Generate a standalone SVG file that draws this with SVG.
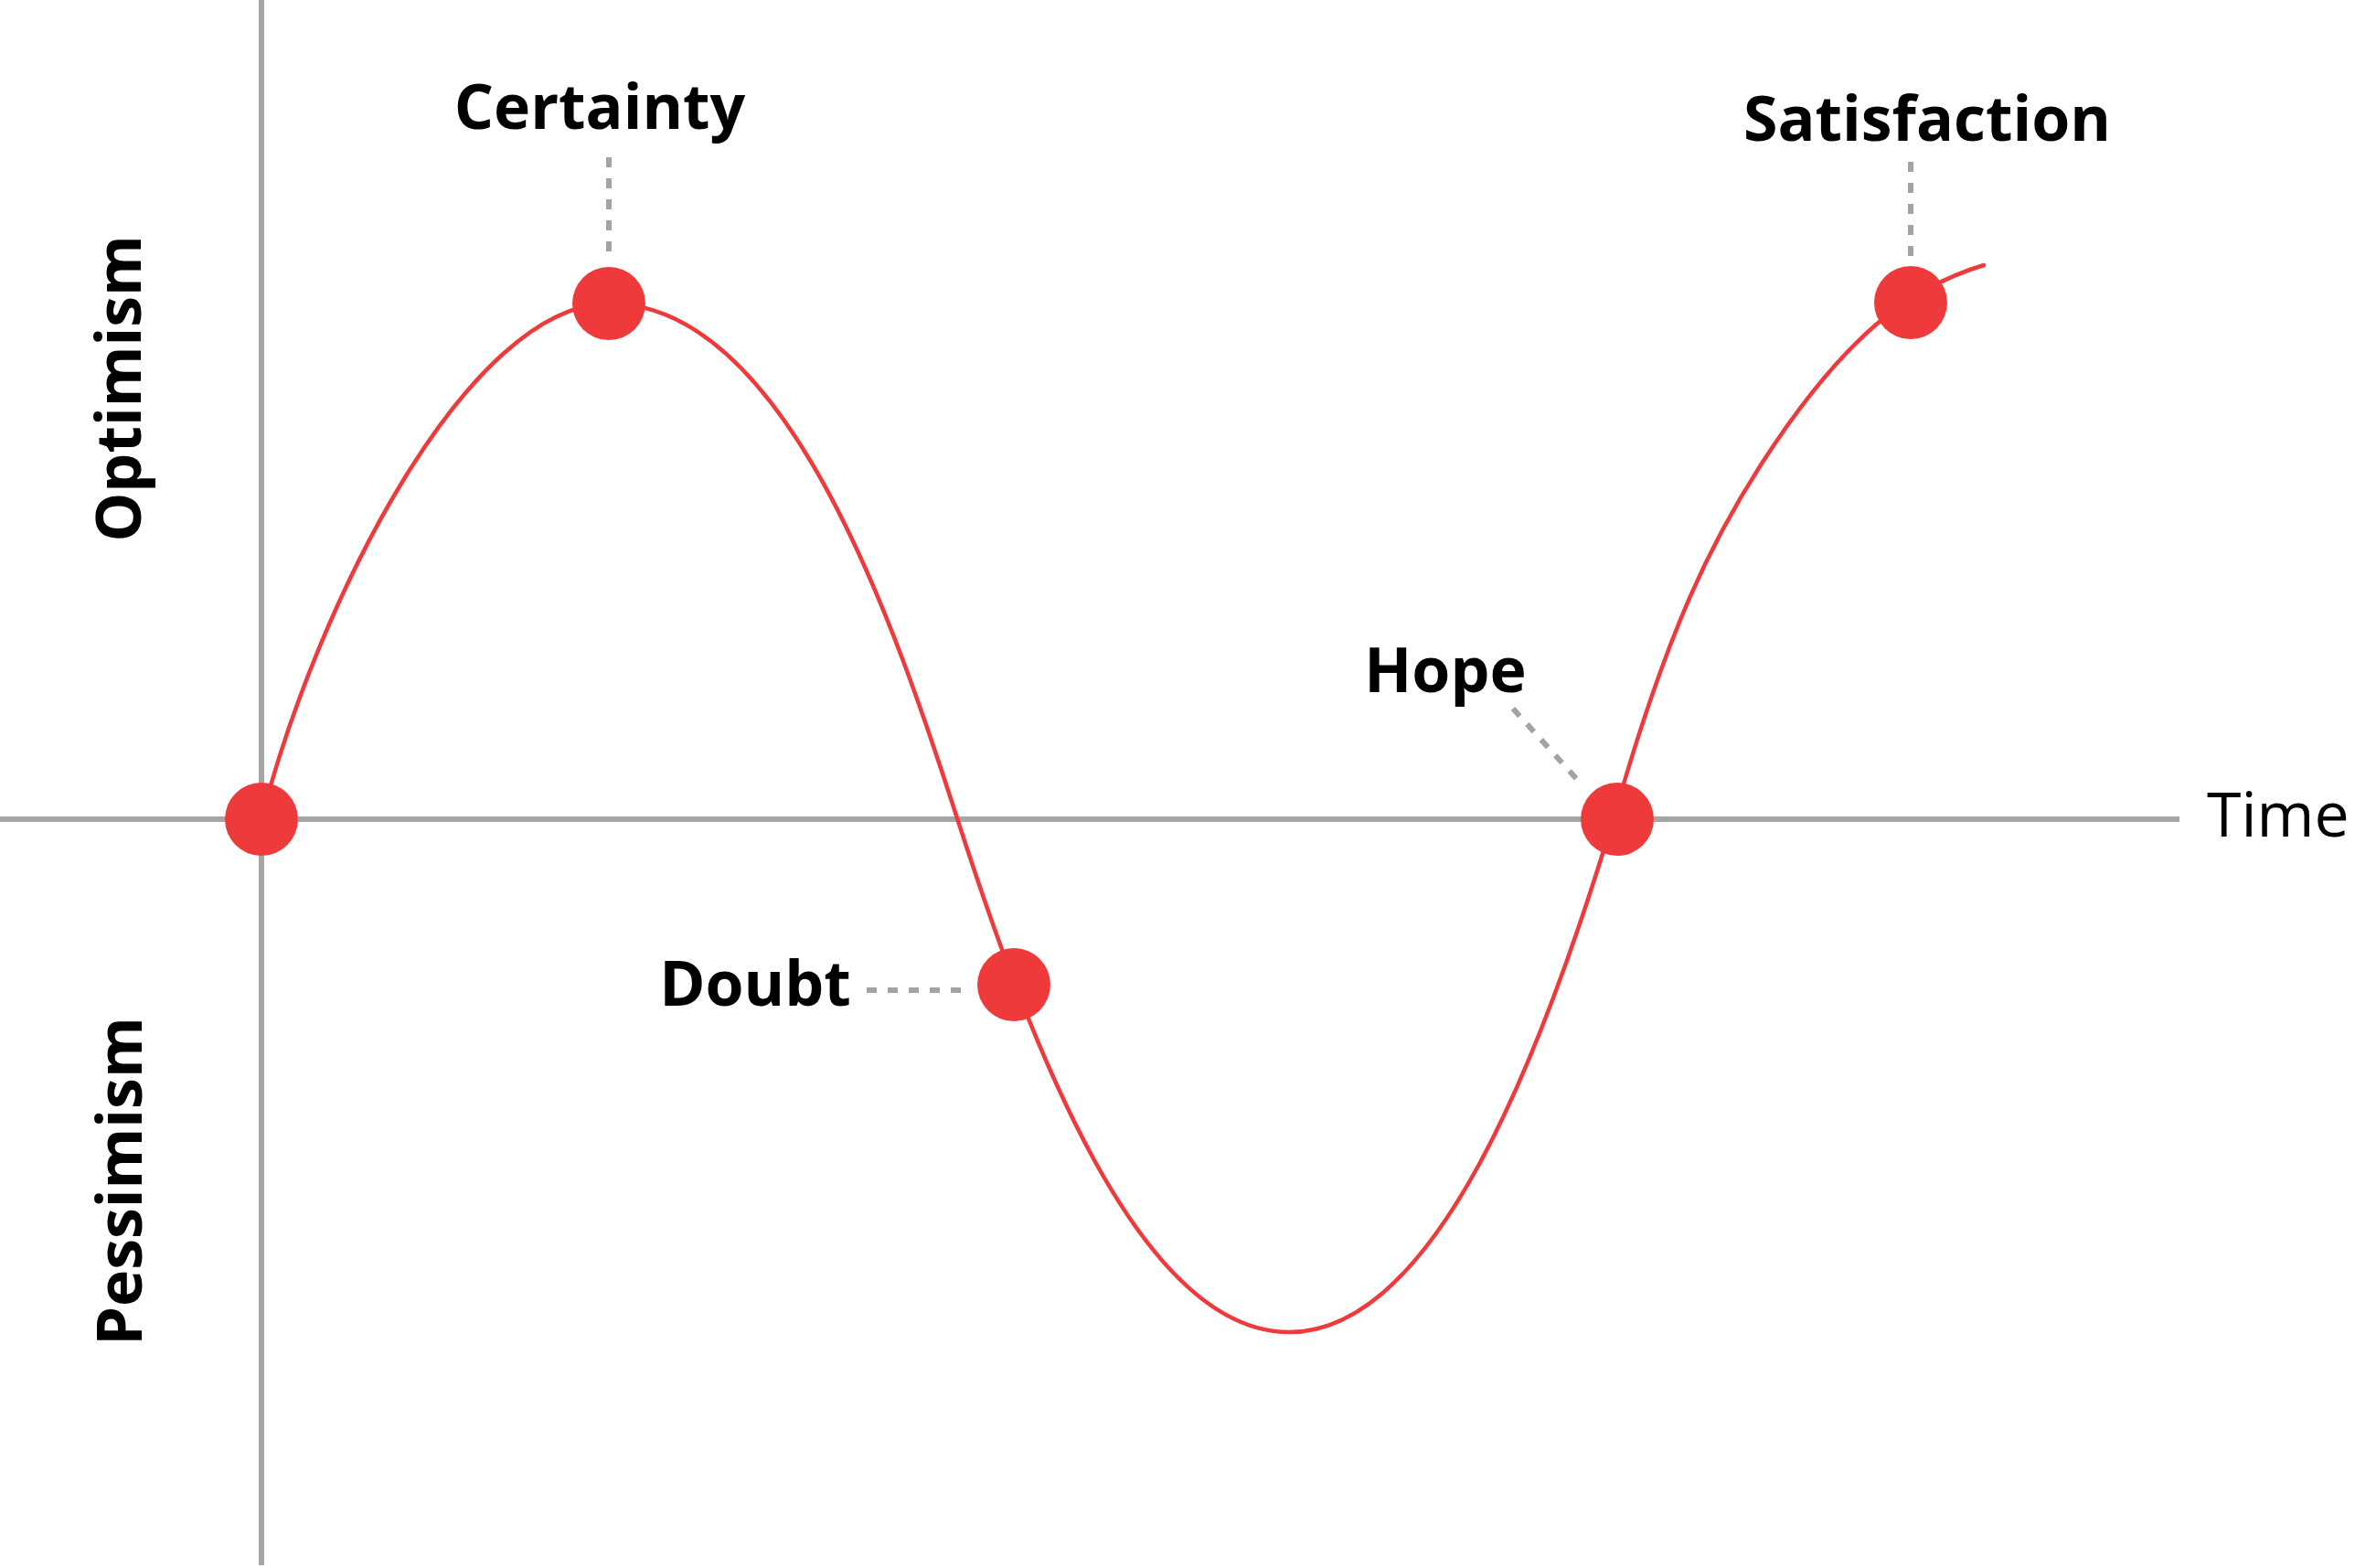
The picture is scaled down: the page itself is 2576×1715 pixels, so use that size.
<svg xmlns="http://www.w3.org/2000/svg" width="2576" height="1715" viewBox="0 0 2576 1715">
  <style>
    .axis { stroke: #a6a6a6; stroke-width: 6; fill: none; }
    .curve { stroke: #ee3a3b; stroke-width: 4.5; fill: none; stroke-linecap: round; }
    .leader { stroke: #a3a3a3; stroke-width: 6; fill: none; stroke-dasharray: 11 12; }
    .dot { fill: #ee3a3b; }
    .label { font-family: "Open Sans", "Noto Sans", sans-serif; font-weight: 700; font-size: 68px; fill: #000000; }
    .axislabel { font-family: "Open Sans", "Noto Sans", sans-serif; font-weight: 700; font-size: 68px; fill: #000000; }
    .time { font-family: "Open Sans", "Noto Sans", sans-serif; font-weight: 400; font-size: 68px; fill: #000000; }
  </style>
  <rect width="2576" height="1715" fill="#ffffff"/>

  <g id="axes">
    <line class="axis" x1="286" y1="0" x2="286" y2="1712"/>
    <line class="axis" x1="0" y1="896" x2="2384" y2="896"/>
    <text class="time" x="2414" y="915">Time</text>
    <text class="axislabel" transform="translate(154,425) rotate(-90)" text-anchor="middle">Optimism</text>
    <text class="axislabel" transform="translate(155,1292) rotate(-90)" text-anchor="middle">Pessimism</text>
  </g>

  <g id="connectors">
    <path class="curve" d="M286,896 C346,662 511,332 667,332 C862,332 982,693.5 1047,895 C1127,1143 1246,1457 1410,1457 C1569,1457 1685,1159 1765,895 C1825,685 1873,590.7 1927,507 C2017,367.5 2089,314.3 2170,290"/>
    <line class="leader" x1="666" y1="172" x2="666" y2="284"/>
    <line class="leader" x1="2090" y1="177" x2="2090" y2="285"/>
    <line class="leader" x1="948" y1="1083" x2="1062" y2="1083"/>
    <line class="leader" x1="1655" y1="775" x2="1730" y2="858"/>
  </g>

  <g id="node-origin">
    <circle class="dot" cx="286" cy="896" r="40"/>
  </g>
  <g id="node-certainty">
    <circle class="dot" cx="666" cy="332" r="40"/>
    <text class="label" x="656" y="141" text-anchor="middle">Certainty</text>
  </g>
  <g id="node-doubt">
    <circle class="dot" cx="1109" cy="1077" r="40"/>
    <text class="label" x="826" y="1100" text-anchor="middle">Doubt</text>
  </g>
  <g id="node-hope">
    <circle class="dot" cx="1769" cy="896" r="40"/>
    <text class="label" x="1581" y="757" text-anchor="middle">Hope</text>
  </g>
  <g id="node-satisfaction">
    <circle class="dot" cx="2090" cy="331" r="40"/>
    <text class="label" x="2108" y="154" text-anchor="middle">Satisfaction</text>
  </g>
</svg>
